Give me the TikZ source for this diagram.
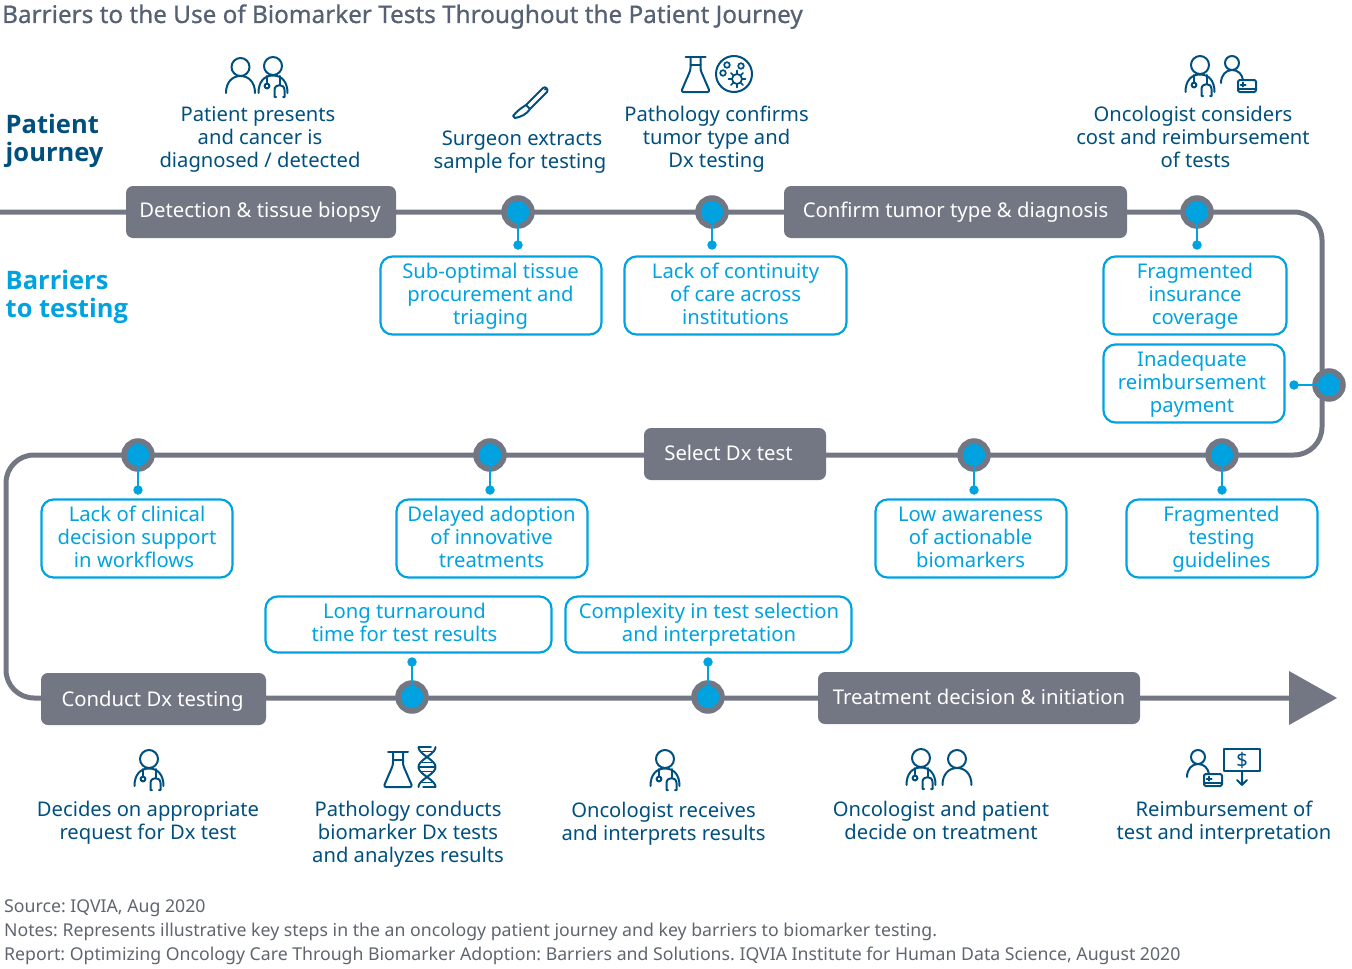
\documentclass[tikz,border=0pt]{standalone}
\usepackage{fontspec}
\setmainfont{Noto Sans}
\newfontfamily\headfont[FakeBold=0.8]{Noto Sans}
\newfontfamily\sidefont{Open Sans}
\frenchspacing
\usetikzlibrary{backgrounds}
\definecolor{navy}{HTML}{00507F}
\definecolor{sky}{HTML}{00A3E0}
\definecolor{slate}{HTML}{737784}
\definecolor{ink}{HTML}{5F6670}
\definecolor{head}{HTML}{566274}
\tikzset{
 lab/.style={align=center,text=navy,font=\fontsize{20.2}{23}\selectfont,inner sep=0},
 bar/.style={draw=sky,line width=2.2,rounded corners=12,fill=white,inner sep=0},
 bartext/.style={align=center,text=sky,font=\fontsize{20.25}{23}\selectfont,inner sep=0},
 stage/.style={fill=slate,rounded corners=7,inner sep=0,minimum height=52},
 stagetext/.style={text=white,font=\fontsize{20.3}{23}\selectfont,inner sep=0},
 dot/.style={circle,fill=sky,draw=slate,line width=5.5,minimum size=28,inner sep=0},
 tip/.style={circle,fill=sky,inner sep=0,minimum size=9.5},
 link/.style={draw=sky,line width=2.3},
 spine/.style={draw=slate,line width=5},
 note/.style={anchor=base west,text=ink,font=\fontsize{17.7}{18}\selectfont,inner sep=0},
 icon/.style={draw=navy,line width=2,line cap=round,line join=round},
 doctor/.pic={
  \draw[icon] (0,0) circle (9);
  \draw[icon] (-14.5,27) .. controls (-14.5,16) and (-9,9.5) .. (0,9.5) .. controls (9,9.5) and (14.5,16) .. (14.5,27);
  \draw[icon] (-6,10) -- (-6,17.5);
  \draw[icon] (-6,20) circle (2.4);
  \draw[icon] (6.5,10) -- (6.5,19);
  \draw[icon] (3,31) -- (1.5,31) -- (1.5,24) .. controls (1.5,17.5) and (11.5,17.5) .. (11.5,24) -- (11.5,31) -- (10,31);
 },
 patient/.pic={
  \draw[icon] (0,0) circle (9);
  \draw[icon] (-14.5,26) .. controls (-14.5,15) and (-8,9) .. (0,9) .. controls (8,9) and (14.5,15) .. (14.5,26);
 },
 cardperson/.pic={
  \draw[icon] (0,0) circle (7);
  \draw[icon] (-11,20) .. controls (-11,12) and (-6,7) .. (0,7) .. controls (6,7) and (10,11) .. (11,17);
  \draw[icon,rounded corners=1.5] (6,17) rectangle (24,29);
  \draw[icon] (6,26) -- (24,26);
  \draw[icon] (8.5,21.5) -- (13.5,21.5) (11,19.5) -- (11,23.5);
 },
 flask/.pic={
  \draw[icon] (-10,0) -- (10,0);
  \draw[icon] (-5,8) -- (5,8);
  \draw[icon,rounded corners=2.5] (-5,0) -- (-5,13) -- (-14.5,35) -- (14.5,35) -- (5,13) -- (5,0);
 },
 dish/.pic={
  \draw[icon] (0,0) circle (18);
  \draw[icon,line width=1.7] (-7,-9) circle (2.8) (7,-8) circle (2.8) (-11,-1) circle (2.8) (3,5) circle (5);
  \draw[icon,line width=1.7] (3,-3.5) -- (3,-0) (3,10) -- (3,13.5) (-5.5,5) -- (-2,5) (8,5) -- (11.5,5)
    (-3,-1) -- (-.5,1.5) (9,-1) -- (6.5,1.5) (-3,11) -- (-.5,8.5) (9,11) -- (6.5,8.5);
 },
 scalpel/.pic={
  \draw[icon] (13,-12) -- (30,-29) .. controls (32,-31) and (36,-28) .. (34,-25) -- (17,-8)
     .. controls (14,-3) and (8,0) .. (2,1) -- (0,-1) .. controls (3,-5) and (8,-9) .. (13,-12) -- (17,-8);
  \fill[navy] (32,-27.5) circle (1);
 },
 dna/.pic={
  \draw[icon] plot[domain=-20:20,samples=41] ({8.5*cos(9*\x)},\x);
  \draw[icon] plot[domain=-20:20,samples=41] ({-8.5*cos(9*\x)},\x);
  \draw[icon,line width=1.5] (-5,-15.5) -- (5,-15.5) (-5,-4.5) -- (5,-4.5) (-8,0) -- (8,0) (-5,4.5) -- (5,4.5) (-5,15.5) -- (5,15.5) (-8.5,-20) -- (4,-20) (-4,20) -- (8.5,20);
 },
 dollar/.pic={
  \draw[icon] (-18,-11) rectangle (18,11);
  \node[text=navy,font=\fontsize{20}{20}\selectfont,inner sep=0] (-name) at (0,0.5) {\$};
  \draw[icon] (0,11) -- (0,25) (-5,20) -- (0,25) -- (5,20);
 },
}
\begin{document}
\begin{tikzpicture}[x=1pt,y=-1pt]
\useasboundingbox (0,0) rectangle (1352,969);

\node[anchor=base west,inner sep=0,text=head,font=\fontsize{24.3}{24.3}\headfont] (title) at (2,23) {Barriers to the Use of Biomarker Tests Throughout the Patient Journey};

\node[anchor=west,inner sep=0,text=navy,align=left,font=\fontsize{25.5}{27.5}\sidefont\bfseries] (pj) at (5.5,141) {Patient\\journey};
\node[anchor=west,inner sep=0,text=sky,align=left,font=\fontsize{25.5}{27.5}\sidefont\bfseries] (bt) at (5.5,297) {Barriers\\to testing};

% stage boxes
\node[stage,minimum width=270] (detect) at (261,212) {};
\node[stage,minimum width=343] (confirm) at (955.5,212) {};
\node[stage,minimum width=182] (select) at (735,454) {};
\node[stage,minimum width=225] (conduct) at (153.5,699) {};
\node[stage,minimum width=322] (treat) at (979,698) {};
\node[stagetext] (detectT) at (260,212) {Detection \& tissue biopsy};
\node[stagetext] (confirmT) at (955.5,212) {Confirm tumor type \& diagnosis};
\node[stagetext] (selectT) at (728.5,453) {Select Dx test};
\node[stagetext] (conductT) at (152.5,701) {Conduct Dx testing};
\node[stagetext] (treatT) at (979,697) {Treatment decision \& initiation};

% dots
\node[dot] (d1) at (518,212) {};
\node[dot] (d2) at (712,212) {};
\node[dot] (d3) at (1197,212) {};
\node[dot] (d4) at (1329,385) {};
\node[dot] (d5) at (1222,455) {};
\node[dot] (d6) at (974,455) {};
\node[dot] (d7) at (490,455) {};
\node[dot] (d8) at (138,455) {};
\node[dot] (d9) at (412,697) {};
\node[dot] (d10) at (708,697) {};

\node[tip] (t1) at (518,245) {};
\node[tip] (t2) at (712,245) {};
\node[tip] (t3) at (1197,245) {};
\node[tip] (t4) at (1294,385) {};
\node[tip] (t5) at (1222,490) {};
\node[tip] (t6) at (974,490) {};
\node[tip] (t7) at (490,490) {};
\node[tip] (t8) at (138,490) {};
\node[tip] (t9) at (412,662) {};
\node[tip] (t10) at (708,662) {};

\foreach \i in {1,...,10} \draw[link] (d\i.center) -- (t\i.center);

% spine
\begin{pgfonlayer}{background}
\coordinate (start) at (0,212);
\coordinate (c1) at (1322,212);
\coordinate (c2) at (1322,455);
\coordinate (c3) at (6,455);
\coordinate (c4) at (6,698);
\coordinate (arrowbase) at (1292,698);
\draw[spine,rounded corners=28] (start) -- (d1.center) -- (d2.center) -- (d3.center) -- (c1) -- (c2) -- (d5.center) -- (d6.center) -- (d7.center) -- (d8.center) -- (c3) -- (c4) -- (arrowbase);
\draw[link] (d4.center) -- (t4.center);
\end{pgfonlayer}
\fill[slate] (1289,671) -- (1337,698) -- (1289,725) -- cycle;

% barrier boxes
\node[bar,minimum width=221,minimum height=78] (b1) at (491,295.5) {};
\node[bar,minimum width=222,minimum height=78] (b2) at (735.5,295.5) {};
\node[bar,minimum width=183,minimum height=78] (b3) at (1195,295.5) {};
\node[bar,minimum width=181,minimum height=78] (b4) at (1194,383.5) {};
\node[bar,minimum width=191,minimum height=78] (b5) at (1222,538.5) {};
\node[bar,minimum width=191,minimum height=78] (b6) at (971,538.5) {};
\node[bar,minimum width=191,minimum height=78] (b7) at (492,538.5) {};
\node[bar,minimum width=191,minimum height=78] (b8) at (137,538.5) {};
\node[bar,minimum width=286,minimum height=56] (b9) at (408.5,624.5) {};
\node[bar,minimum width=286,minimum height=56] (b10) at (708.5,624.5) {};
\node[bartext] (bt1) at (490.5,296.5) {Sub-optimal tissue\\procurement and\\triaging};
\node[bartext] (bt2) at (735.5,293.5) {Lack of continuity\\of care across\\institutions};
\node[bartext] (bt3) at (1195,296.5) {Fragmented\\insurance\\coverage};
\node[bartext] (bt4) at (1192,384) {Inadequate\\reimbursement\\payment};
\node[bartext] (bt5) at (1221.5,539.5) {Fragmented\\testing\\guidelines};
\node[bartext] (bt6) at (970.5,537.5) {Low awareness\\of actionable\\biomarkers};
\node[bartext] (bt7) at (491.5,536.5) {Delayed adoption\\of innovative\\treatments};
\node[bartext] (bt8) at (137,536.5) {Lack of clinical\\decision support\\in workflows\hspace*{6pt}};
\node[bartext] (bt9) at (404.5,622.5) {Long turnaround\\time for test results};
\node[bartext] (bt10) at (709,624.5) {Complexity in test selection\\and interpretation};

% journey labels
\node[lab] (l1) at (260,139) {Patient presents\hspace*{4pt}\\and cancer is\hspace*{4pt}\\diagnosed / detected};
\node[lab] (l2) at (520,152) {\hspace*{4pt}Surgeon extracts\\sample for testing};
\node[lab] (l3) at (716.5,139) {Pathology confirms\\tumor type and\\Dx testing};
\node[lab] (l4) at (1193,137) {Oncologist considers\\cost and reimbursement\\\hspace*{5pt}of tests};
\node[lab] (l5) at (148,823) {Decides on appropriate\\request for Dx test};
\node[lab] (l6) at (408,834) {Pathology conducts\\biomarker Dx tests\\and analyzes results};
\node[lab] (l7) at (663.5,824) {Oncologist receives\\and interprets results};
\node[lab] (l8) at (941,820) {Oncologist and patient\\decide on treatment};
\node[lab] (l9) at (1224,823) {Reimbursement of\\test and interpretation};

% icons
\pic at (240.5,67) {patient};
\pic at (273,66) {doctor};
\pic at (513,117) {scalpel};
\pic at (695.5,57) {flask};
\pic at (734,74) {dish};
\pic at (1200,65) {doctor};
\pic at (1232,63) {cardperson};
\pic at (149,759) {doctor};
\pic at (398,752) {flask};
\pic at (427,767) {dna};
\pic at (665,759) {doctor};
\pic at (921,758) {doctor};
\pic at (957,759) {patient};
\pic at (1198,757) {cardperson};
\pic (usd) at (1242,760) {dollar};

% notes
\node[note] (n1) at (4,912) {Source: IQVIA, Aug 2020};
\node[note] (n2) at (4,936) {Notes: Represents illustrative key steps in the an oncology patient journey and key barriers to biomarker testing.};
\node[note] (n3) at (4,960) {Report: Optimizing Oncology Care Through Biomarker Adoption: Barriers and Solutions. IQVIA Institute for Human Data Science, August 2020};
\end{tikzpicture}
\end{document}
